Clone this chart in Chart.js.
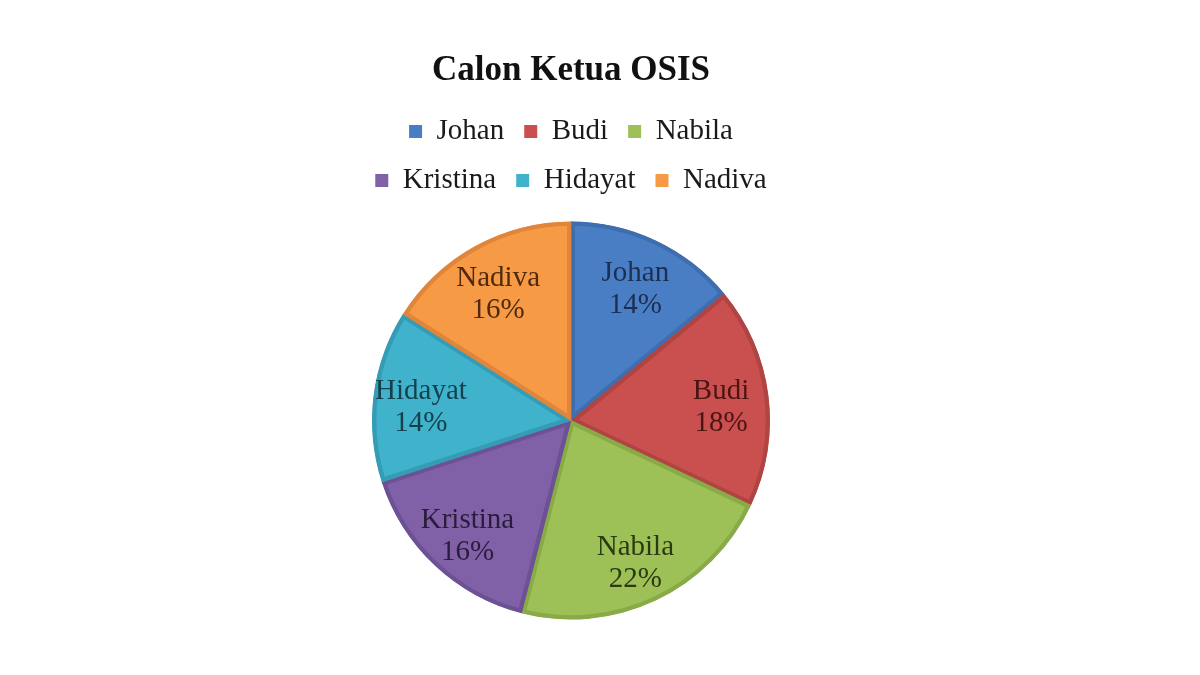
<!DOCTYPE html>
<html>
<head>
<meta charset="utf-8">
<script src="https://cdn.jsdelivr.net/npm/chart.js@4/dist/chart.umd.min.js"></script>
<style>
  html, body { margin: 0; padding: 0; background: #ffffff; }
  #wrap { position: absolute; left: 346px; top: 0; width: 450px; height: 675px; }
</style>
</head>
<body>
<div id="wrap"><canvas id="pieChart"></canvas></div>
<script>
// Chart data
const candidates = ['Johan', 'Budi', 'Nabila', 'Kristina', 'Hidayat', 'Nadiva'];
const percentages = [14, 18, 22, 16, 14, 16];

// Slice colours, their darker edge and label ink
const sliceColors = ['#4a7ec4', '#c9504e', '#9dc156', '#8061a8', '#40b2cc', '#f79a45'];
const edgeColors = ['#3f6eae', '#b04442', '#88ab47', '#6c5194', '#349cb5', '#e0853a'];
const labelColors = ['#1c2f52', '#4a1514', '#2c3a14', '#2a1d3b', '#143f4c', '#4f2a0e'];

const serif = "'Liberation Serif', 'Times New Roman', serif";

// Draws "name / percent" inside each slice
const sliceLabels = {
    id: 'sliceLabels',
    afterDatasetsDraw(chart) {
        const { ctx } = chart;
        const meta = chart.getDatasetMeta(0);
        ctx.save();
        ctx.font = `29px ${serif}`;
        ctx.textAlign = 'center';
        ctx.textBaseline = 'middle';
        meta.data.forEach((arc, i) => {
            const { x, y, startAngle, endAngle, outerRadius } = arc.getProps(['x', 'y', 'startAngle', 'endAngle', 'outerRadius'], true);
            const mid = (startAngle + endAngle) / 2;
            const r = outerRadius * 0.76;
            const cx = x + Math.cos(mid) * r;
            const cy = y + Math.sin(mid) * r + 6;
            ctx.fillStyle = labelColors[i];
            ctx.fillText(candidates[i], cx, cy - 16);
            ctx.fillText(percentages[i] + '%', cx, cy + 16);
        });
        ctx.restore();
    }
};

document.addEventListener('DOMContentLoaded', function() {
    const ctx = document.getElementById('pieChart');

    new Chart(ctx, {
        type: 'pie',
        data: {
            labels: candidates,
            datasets: [{
                data: percentages,
                backgroundColor: sliceColors,
                borderColor: edgeColors,
                borderWidth: 4,
                borderAlign: 'inner'
            }]
        },
        options: {
            responsive: true,
            maintainAspectRatio: false,
            animation: false,
            radius: 199,
            layout: {
                padding: { bottom: 39 }
            },
            plugins: {
                title: {
                    display: true,
                    text: 'Calon Ketua OSIS',
                    color: '#111111',
                    font: { family: serif, size: 35, weight: 'bold' },
                    padding: { top: 50, bottom: 5 }
                },
                legend: {
                    position: 'top',
                    labels: {
                        color: '#1a1a1a',
                        font: { family: serif, size: 29 },
                        boxWidth: 13,
                        boxHeight: 13,
                        padding: 20,
                        generateLabels(chart) {
                            const items = Chart.overrides.pie.plugins.legend.labels.generateLabels(chart);
                            return items.map(item => ({ ...item, lineWidth: 0, strokeStyle: item.fillStyle }));
                        }
                    }
                },
                tooltip: { enabled: false }
            }
        },
        plugins: [sliceLabels]
    });
});
</script>
</body>
</html>
